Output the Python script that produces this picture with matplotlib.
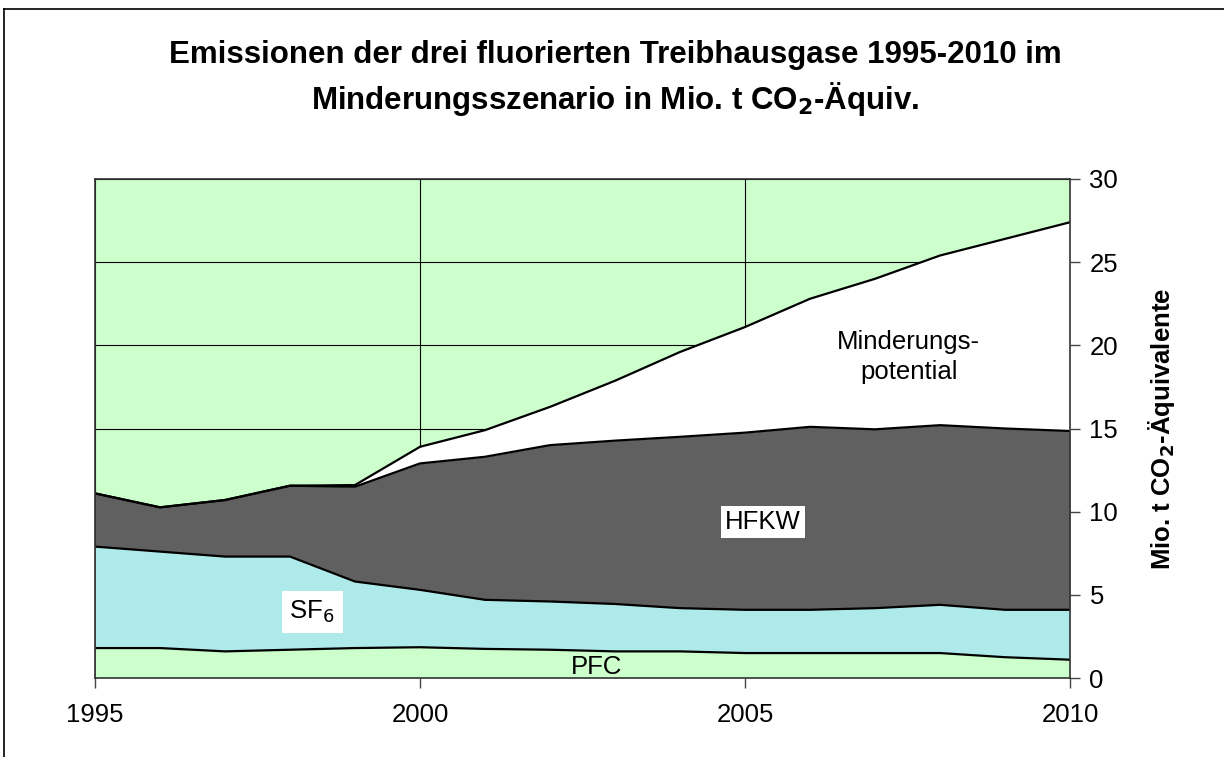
import matplotlib
matplotlib.use("Agg")
import matplotlib.pyplot as plt
from matplotlib.lines import Line2D
import numpy as np

plt.rcParams['font.family'] = ['Liberation Sans', 'DejaVu Sans']

years = [1995, 1996, 1997, 1998, 1999, 2000, 2001, 2002, 2003, 2004,
         2005, 2006, 2007, 2008, 2009, 2010]
pfc = [1.8, 1.8, 1.6, 1.7, 1.8, 1.85, 1.75, 1.7, 1.6, 1.6,
       1.5, 1.5, 1.5, 1.5, 1.25, 1.1]
sf6 = [6.1, 5.8, 5.7, 5.6, 4.0, 3.45, 2.95, 2.9, 2.85, 2.6,
       2.6, 2.6, 2.7, 2.9, 2.85, 3.0]
hfkw = [3.2, 2.66, 3.4, 4.26, 5.7, 7.6, 8.6, 9.4, 9.82, 10.3,
        10.65, 11.0, 10.75, 10.8, 10.9, 10.75]
minderung = [0.0, 0.0, 0.0, 0.0, 0.1, 1.0, 1.6, 2.3, 3.6, 5.1,
             6.35, 7.7, 9.05, 10.2, 11.4, 12.55]

xticks = [1995, 2000, 2005, 2010]
yticks = [0, 5, 10, 15, 20, 25, 30]

title = "Emissionen der drei fluorierten Treibhausgase 1995-2010 im\nMinderungsszenario in Mio. t CO$_\\mathbf{2}$-Äquiv."
ylabel = "Mio. t CO$_\\mathbf{2}$-Äquivalente"

c_bg = "#CCFFCC"
c_pfc = "#CCFFCC"
c_sf6 = "#AFEAEA"
c_hfkw = "#606060"
c_mind = "#FFFFFF"

fig = plt.figure(figsize=(12.24, 7.57), dpi=100)
ax = fig.add_axes([95/1224, 1-678/757, (1070-95)/1224, (678-179)/757])
ax.set_facecolor(c_bg)

x = np.array(years)
s1 = np.array(pfc)
s2 = s1 + np.array(sf6)
s3 = s2 + np.array(hfkw)
s4 = s3 + np.array(minderung)

ax.fill_between(x, 0, s1, color=c_pfc, zorder=2, linewidth=0)
ax.fill_between(x, s1, s2, color=c_sf6, zorder=2, linewidth=0)
ax.fill_between(x, s2, s3, color=c_hfkw, zorder=2, linewidth=0)
ax.fill_between(x, s3, s4, color=c_mind, zorder=2, linewidth=0)
for s in (s1, s2, s3, s4):
    ax.plot(x, s, color="black", linewidth=1.6, zorder=3, solid_joinstyle='round')

ax.set_xlim(1995, 2010)
ax.set_ylim(0, 30)
ax.set_xticks(xticks)
ax.set_yticks(yticks)
ax.yaxis.tick_right()
ax.yaxis.set_label_position("right")
ax.tick_params(axis='both', labelsize=18.5, length=7, width=1, color="#444444", direction='out')
ax.tick_params(axis='x', pad=11)
ax.tick_params(axis='y', pad=7)

ax.grid(True, color="black", linewidth=0.8, zorder=1)
ax.set_axisbelow(True)
for sp in ax.spines.values():
    sp.set_color("#333333")
    sp.set_linewidth(1.2)
    sp.set_zorder(4)

ax.set_ylabel(ylabel, fontsize=18.5, fontweight='bold', labelpad=20)

fig.text(615/1224, 1-79/757, title, ha='center', va='center', fontsize=22.5,
         fontweight='bold', linespacing=1.35)

ax.text(2007.52, 19.3, "Minderungs-\npotential", ha='center', va='center',
        fontsize=18.5, linespacing=1.28, zorder=5)
ax.text(2005.28, 9.38, "HFKW", ha='center', va='center', fontsize=18.5, zorder=5,
        bbox=dict(facecolor='white', edgecolor='none', boxstyle='square,pad=0.15'))
ax.text(1998.34, 3.97, "SF$_6$", ha='center', va='center', fontsize=18.5, zorder=5,
        bbox=dict(facecolor='white', edgecolor='none', boxstyle='square,pad=0.3'))
ax.text(2002.72, 0.68, "PFC", ha='center', va='center', fontsize=18.5, zorder=5)

# figure frame (left and top edges)
fig.add_artist(Line2D([4/1224, 4/1224], [0, 1-9/757], transform=fig.transFigure,
                      color="black", linewidth=1.2))
fig.add_artist(Line2D([4/1224, 1], [1-9/757, 1-9/757], transform=fig.transFigure,
                      color="black", linewidth=1.2))

fig.savefig("out.png", dpi=100)
